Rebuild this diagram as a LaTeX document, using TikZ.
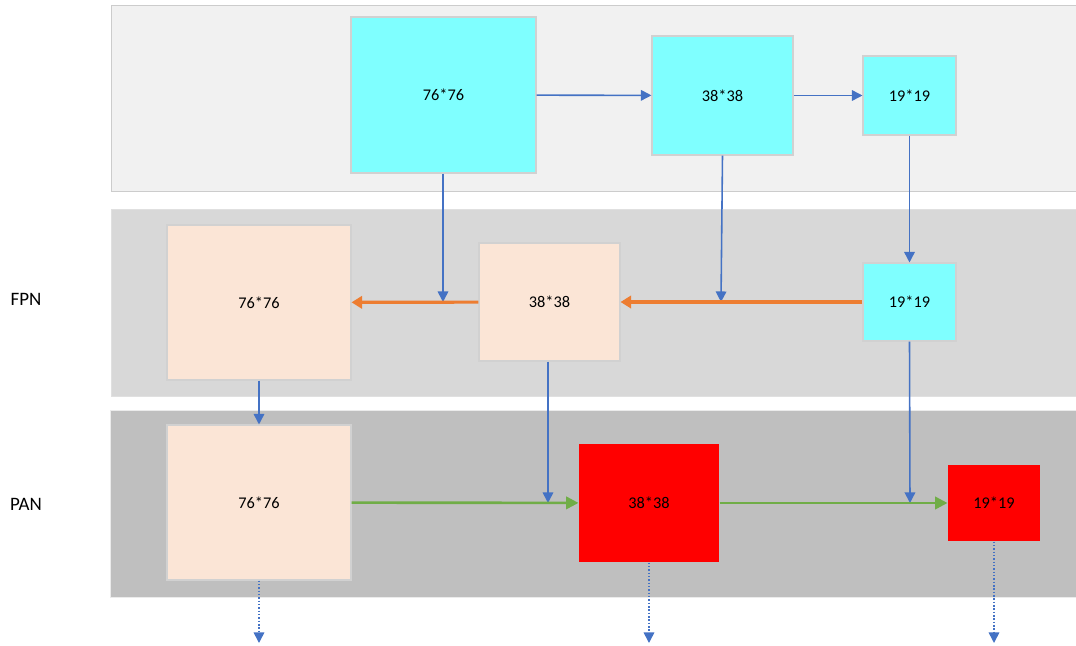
\documentclass[tikz,border=0pt]{standalone}
\usepackage{fontspec}
\setmainfont{Carlito}
\usetikzlibrary{arrows.meta}
\definecolor{bandA}{HTML}{F1F1F1}
\definecolor{bandB}{HTML}{D8D8D8}
\definecolor{bandC}{HTML}{BFBFBF}
\definecolor{cyanbox}{HTML}{7FFFFF}
\definecolor{peachbox}{HTML}{FBE5D6}
\definecolor{redbox}{HTML}{FF0000}
\definecolor{arrblue}{HTML}{4472C4}
\definecolor{arrorange}{HTML}{ED7D31}
\definecolor{arrgreen}{HTML}{70AD47}
\tikzset{
  feat/.style={draw=black!18, line width=0.6pt, inner sep=0pt, font=\fontsize{9.3}{11}\selectfont},
  bluearr/.style={draw=arrblue, line width=0.9pt, -{Triangle[length=6pt,width=6pt]}},
  orangearr/.style={draw=arrorange, line width=1.8pt, -{Triangle[length=6pt,width=7pt]}},
  greenarr/.style={draw=arrgreen, line width=1.5pt, -{Triangle[length=7pt,width=7pt]}},
  outarr/.style={draw=arrblue, line width=0.9pt, densely dotted, -{Triangle[length=6pt,width=6pt]}},
}
\begin{document}
\begin{tikzpicture}[x=0.02cm, y=-0.02cm]
  \useasboundingbox (0,0) rectangle (1076,646);

  % bandes
  \draw[fill=bandA, draw=black!20] (111,5) rectangle (1076,191);
  \draw[fill=bandB, draw=black!12] (111,209) rectangle (1076,396);
  \draw[fill=bandC, draw=black!8] (110,410) rectangle (1076,597);

  \node[font=\fontsize{10.8}{12}\selectfont] (fpn) at (26,299) {FPN};
  \node[font=\fontsize{10.8}{12}\selectfont] (pan) at (26,504) {PAN};

  % backbone
  \node[feat, fill=cyanbox, minimum width=185*0.02cm, minimum height=156*0.02cm] (t76) at (443.5,95) {76*76};
  \node[feat, fill=cyanbox, minimum width=141*0.02cm, minimum height=119*0.02cm] (t38) at (722.5,95.5) {38*38};
  \node[feat, fill=cyanbox, minimum width=93*0.02cm, minimum height=79*0.02cm] (t19) at (909.5,95.5) {19*19};

  % FPN
  \node[feat, fill=peachbox, minimum width=184*0.02cm, minimum height=155*0.02cm] (f76) at (259,302.5) {76*76};
  \node[feat, fill=peachbox, minimum width=141*0.02cm, minimum height=118*0.02cm] (f38) at (549.5,302) {38*38};
  \node[feat, fill=cyanbox, minimum width=93*0.02cm, minimum height=78*0.02cm] (f19) at (909.5,302) {19*19};

  % PAN
  \node[feat, fill=peachbox, minimum width=184*0.02cm, minimum height=155*0.02cm] (p76) at (259,502.5) {76*76};
  \node[feat, draw=none, fill=redbox, minimum width=140*0.02cm, minimum height=118*0.02cm] (p38) at (649,503) {38*38};
  \node[feat, draw=none, fill=redbox, minimum width=92*0.02cm, minimum height=76*0.02cm] (p19) at (994,503) {19*19};

  % points d'arrivée
  \coordinate (m76) at (443,302);
  \coordinate (m38) at (721,302);
  \coordinate (n38) at (548,503);
  \coordinate (n19) at (910,503);
  \coordinate (o76) at (259,643);
  \coordinate (o38) at (649,643);
  \coordinate (o19) at (994,643);

  % flèches
  \draw[bluearr] (t76) -- (t38);
  \draw[bluearr] (t38) -- (t19);
  \draw[bluearr] (t76.south -| m76) -- (m76);
  \draw[bluearr] (t38.south) -- (m38);
  \draw[bluearr] (t19) -- (f19);

  \draw[orangearr] (f19) -- (f38);
  \draw[orangearr] (f38) -- (f76);

  \draw[bluearr] (f76) -- (p76);
  \draw[bluearr] (f38.south -| n38) -- (n38);
  \draw[bluearr] (f19.south) -- (n19);

  \draw[greenarr] (p76) -- (p38);
  \draw[greenarr] (p38) -- (p19);

  \draw[outarr] (p76) -- (o76);
  \draw[outarr] (p38) -- (o38);
  \draw[outarr] (p19) -- (o19);
\end{tikzpicture}
\end{document}
